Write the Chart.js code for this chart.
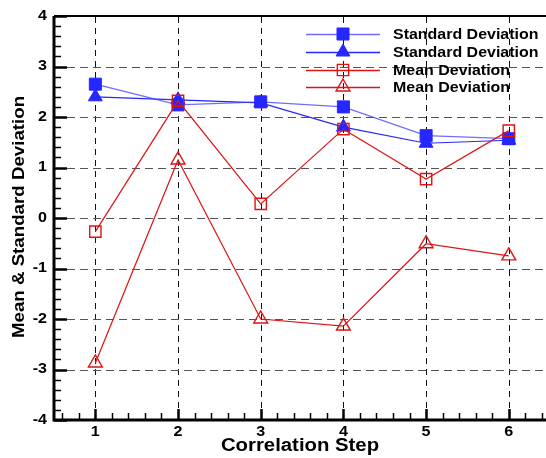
<!DOCTYPE html>
<html>
<head>
<meta charset="utf-8">
<script src="https://cdn.jsdelivr.net/npm/chart.js@4.4.1/dist/chart.umd.min.js"></script>
<style>
  body { margin: 0; background: #fff; }
  #wrap { width: 546px; height: 458px; }
</style>
</head>
<body>
<div id="wrap"><canvas id="chart" width="546" height="458"></canvas></div>
<script>
// values
var steps = [1, 2, 3, 4, 5, 6];
var stdSquare = [2.65, 2.24, 2.30, 2.20, 1.63, 1.57];
var stdTriangle = [2.40, 2.34, 2.28, 1.80, 1.48, 1.54];
var meanSquare = [-0.27, 2.32, 0.28, 1.76, 0.77, 1.73];
var meanTriangle = [-2.87, 1.15, -2.00, -2.14, -0.51, -0.75];
var xTicks = [1, 2, 3, 4, 5, 6];
var yTicks = [-4, -3, -2, -1, 0, 1, 2, 3, 4];
var labels = ['Standard Deviation', 'Standard Deviation', 'Mean Deviation', 'Mean Deviation'];

var FONT = '"Liberation Sans", Arial, sans-serif';
var BLUE = '#2626ff';
var RED = '#dc1414';

function pts(vals) {
    return steps.map(function (s, i) { return { x: s, y: vals[i] }; });
}

// text in the picture looks a bit wider than plain Arial
function wideText(ctx, text, x, y, size, align, sx, rot) {
    ctx.save();
    ctx.translate(x, y);
    if (rot) ctx.rotate(rot);
    ctx.scale(sx, 1);
    ctx.font = 'bold ' + size + 'px ' + FONT;
    ctx.fillStyle = '#000';
    ctx.textAlign = align;
    ctx.textBaseline = 'middle';
    ctx.fillText(text, 0, 0);
    ctx.restore();
}

var gridPlugin = {
    id: 'grid',
    beforeDatasetsDraw: function (chart) {
        var ctx = chart.ctx, a = chart.chartArea;
        var xs = chart.scales.x, ys = chart.scales.y;
        ctx.save();
        ctx.lineWidth = 1;
        // vertical dashed lines
        ctx.strokeStyle = '#111';
        ctx.setLineDash([6, 5]);
        xTicks.forEach(function (v) {
            var px = Math.round(xs.getPixelForValue(v)) + 0.5;
            ctx.beginPath();
            ctx.moveTo(px, a.bottom - 12);
            ctx.lineTo(px, a.top);
            ctx.stroke();
        });
        // horizontal dashed lines
        ctx.strokeStyle = '#555';
        ctx.setLineDash([8, 5]);
        yTicks.forEach(function (v) {
            if (v === -4 || v === 4) return;
            var py = Math.round(ys.getPixelForValue(v)) + 0.5;
            ctx.beginPath();
            ctx.moveTo(a.left + 13, py);
            ctx.lineTo(a.right, py);
            ctx.stroke();
        });
        ctx.restore();
    },
    afterDatasetsDraw: function (chart) {
        var ctx = chart.ctx, a = chart.chartArea;
        var xs = chart.scales.x, ys = chart.scales.y;
        ctx.save();
        ctx.strokeStyle = '#000';
        // minor + major ticks, x
        for (var i = 3; i <= 32; i++) {
            var v = i * 0.2;
            var px = Math.round(xs.getPixelForValue(v)) + 0.5;
            var major = Math.abs(v - Math.round(v)) < 1e-6;
            ctx.lineWidth = major ? 2.5 : 1.5;
            ctx.beginPath();
            ctx.moveTo(px, a.bottom);
            ctx.lineTo(px, a.bottom - (major ? 11 : 7));
            ctx.stroke();
        }
        // minor + major ticks, y
        for (var j = -20; j <= 20; j++) {
            var vy = j * 0.2;
            var py = Math.round(ys.getPixelForValue(vy)) + 0.5;
            var maj = j % 5 === 0;
            ctx.lineWidth = maj ? 2.5 : 1.5;
            ctx.beginPath();
            ctx.moveTo(a.left, py);
            ctx.lineTo(a.left + (maj ? 13 : 7), py);
            ctx.stroke();
        }
        // axes
        ctx.lineWidth = 3;
        ctx.beginPath();
        ctx.moveTo(a.left, a.top);
        ctx.lineTo(a.left, a.bottom);
        ctx.lineTo(a.right, a.bottom);
        ctx.stroke();
        ctx.lineWidth = 2;
        ctx.beginPath();
        ctx.moveTo(a.left, a.top);
        ctx.lineTo(a.right, a.top);
        ctx.stroke();
        ctx.restore();

        // tick labels
        xTicks.forEach(function (v) {
            wideText(ctx, String(v), xs.getPixelForValue(v), a.bottom + 12, 14, 'center', 1.15);
        });
        yTicks.forEach(function (v) {
            wideText(ctx, String(v), a.left - 7, ys.getPixelForValue(v), 14, 'right', 1.15);
        });
        // axis titles
        wideText(ctx, 'Correlation Step', (a.left + a.right) / 2, 446, 18, 'center', 1.13);
        wideText(ctx, 'Mean & Standard Deviation', 19, 217, 17, 'center', 1.1, -Math.PI / 2);

        // legend with line + marker per series
        var lx0 = 306, lx1 = 380, mx = 343, tx = 393;
        var rows = [34, 52, 70, 87];
        chart.data.datasets.forEach(function (ds, k) {
            var y = rows[k];
            ctx.save();
            ctx.strokeStyle = ds.borderColor;
            ctx.lineWidth = 1.5;
            ctx.beginPath();
            ctx.moveTo(lx0, y + 0.5);
            ctx.lineTo(lx1, y + 0.5);
            ctx.stroke();
            ctx.fillStyle = ds.pointBackgroundColor;
            ctx.strokeStyle = ds.pointBorderColor;
            ctx.lineWidth = ds.pointBorderWidth;
            Chart.helpers.drawPoint(ctx, {
                pointStyle: ds.pointStyle, radius: ds.pointRadius, borderWidth: ds.pointBorderWidth, rotation: 0
            }, mx, y);
            ctx.restore();
            wideText(ctx, labels[k], tx, y + 1, 14, 'left', 1.14);
        });
    }
};

new Chart(document.getElementById('chart'), {
    type: 'line',
    data: {
        datasets: [
            {
                label: labels[0], data: pts(stdSquare), borderColor: 'rgba(60,60,255,0.75)', borderWidth: 1.3,
                pointStyle: 'rect', pointRadius: 8.5, pointBackgroundColor: BLUE, pointBorderColor: BLUE,
                pointBorderWidth: 1, order: 3
            },
            {
                label: labels[1], data: pts(stdTriangle), borderColor: BLUE, borderWidth: 1.2,
                pointStyle: 'triangle', pointRadius: 8, pointBackgroundColor: BLUE, pointBorderColor: BLUE,
                pointBorderWidth: 1, order: 4
            },
            {
                label: labels[2], data: pts(meanSquare), borderColor: RED, borderWidth: 1.2,
                pointStyle: 'rect', pointRadius: 8, pointBackgroundColor: 'rgba(0,0,0,0)', pointBorderColor: RED,
                pointBorderWidth: 1.4, order: 1
            },
            {
                label: labels[3], data: pts(meanTriangle), borderColor: RED, borderWidth: 1.2,
                pointStyle: 'triangle', pointRadius: 8, pointBackgroundColor: 'rgba(0,0,0,0)', pointBorderColor: RED,
                pointBorderWidth: 1.4, order: 2
            }
        ]
    },
    options: {
        responsive: false,
        animation: false,
        devicePixelRatio: 1,
        layout: { autoPadding: false, padding: { left: 54, top: 16, right: 0, bottom: 38 } },
        plugins: { legend: { display: false }, tooltip: { enabled: false } },
        scales: {
            x: { type: 'linear', min: 0.5, max: 6.45, display: false },
            y: { type: 'linear', min: -4, max: 4, display: false }
        }
    },
    plugins: [gridPlugin]
});
</script>
</body>
</html>
